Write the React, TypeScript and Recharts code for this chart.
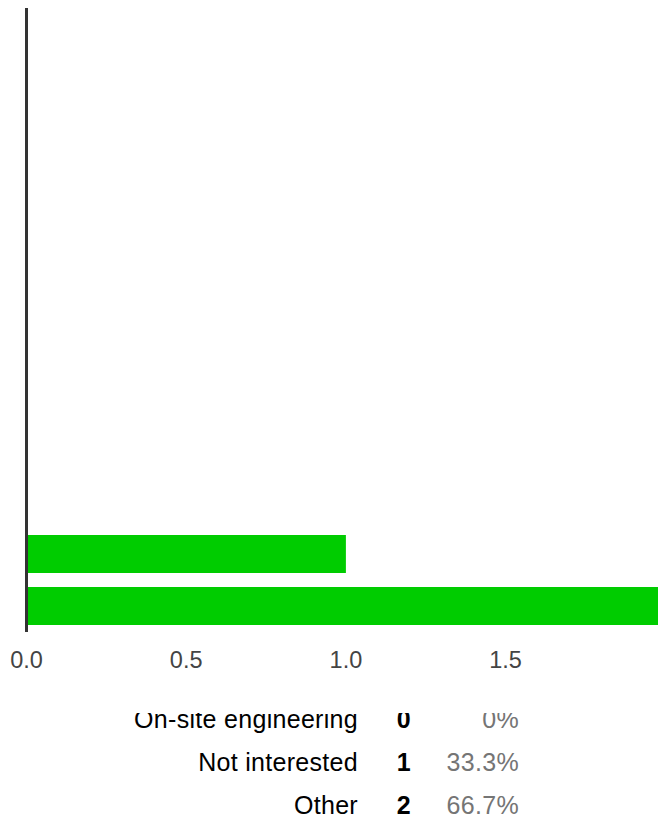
import { BarChart, Bar, XAxis, YAxis } from 'recharts';

// 12 answer options; only the last three rows are visible in the summary,
// the others got no responses.
const counts = [0, 0, 0, 0, 0, 0, 0, 0, 0, 0, 1, 2];
const xTicks = [0, 0.5, 1, 1.5];

const tableLabels = ['On-site engineering', 'Not interested', 'Other'];
const tableCounts = [0, 1, 2];
const tablePercents = ['0%', '33.3%', '66.7%'];

const data = counts.map((count, i) => ({ idx: i, count }));

const font = '"Liberation Sans", Arial, sans-serif';

export default function App() {
    return (
        <div style={{ position: 'fixed', left: 0, top: 0, width: 658, height: 823, overflow: 'hidden', background: '#fff', fontFamily: font }}>
            <div style={{ position: 'absolute', left: 0, top: 8 }}>
                <BarChart
                    width={680}
                    height={676}
                    data={data}
                    layout="vertical"
                    margin={{ top: 0, right: 14.7, bottom: 0, left: 25.5 }}
                >
                    <XAxis
                        type="number"
                        domain={[0, 2]}
                        ticks={xTicks}
                        tickFormatter={(v: number) => v.toFixed(1)}
                        axisLine={false}
                        tickLine={false}
                        tickMargin={13}
                        height={52}
                        tick={{ fill: '#444', fontSize: 23.5, fontFamily: font }}
                    />
                    <YAxis
                        type="category"
                        dataKey="idx"
                        width={1}
                        tick={false}
                        tickLine={false}
                        axisLine={{ stroke: '#333', strokeWidth: 3 }}
                    />
                    <Bar dataKey="count" fill="#00cc00" barSize={38} isAnimationActive={false} />
                </BarChart>
            </div>

            <div style={{ position: 'absolute', left: 0, top: 713, width: 658, height: 110, overflow: 'hidden' }}>
                {tableLabels.map((label, i) => (
                    <div key={label} style={{ position: 'absolute', left: 0, top: -15.5 + i * 43, width: 658, height: 43, lineHeight: '43px', fontSize: 25, letterSpacing: 0.3 }}>
                        <span style={{ position: 'absolute', right: 658 - 358, color: '#000', whiteSpace: 'nowrap' }}>{label}</span>
                        <span style={{ position: 'absolute', right: 658 - 411, color: '#000', fontWeight: 'bold' }}>{tableCounts[i]}</span>
                        <span style={{ position: 'absolute', right: 658 - 519, color: '#757575' }}>{tablePercents[i]}</span>
                    </div>
                ))}
            </div>
        </div>
    );
}
